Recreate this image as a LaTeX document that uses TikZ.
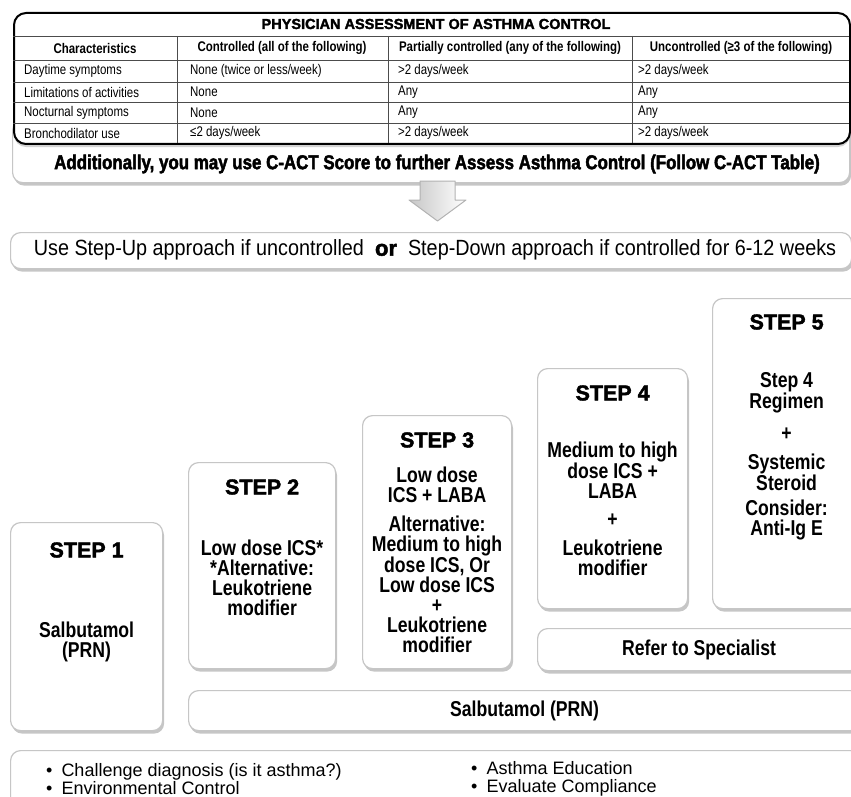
\documentclass[tikz,border=0pt]{standalone}
\usepackage{fontspec}
\setmainfont{Liberation Sans}
\newfontfamily\condfont[FakeStretch=0.82]{Liberation Sans}
\newfontfamily\plainfont[FakeStretch=0.9]{Liberation Sans}
\newfontfamily\blackfont[FakeBold=2]{Liberation Sans}
\newfontfamily\impactfont[FakeStretch=0.845,FakeBold=2.2]{Liberation Sans}
\usetikzlibrary{shadows,positioning}

\tikzset{
  card/.style={fill=white, draw=gray!45, line width=1.2pt, rounded corners=10pt,
    drop shadow={opacity=0.45, shadow xshift=1.5pt, shadow yshift=-3pt}},
  tablebox/.style={fill=white, draw=black, line width=2pt, rounded corners=12pt,
    drop shadow={opacity=0.35, shadow xshift=0pt, shadow yshift=-3pt}},
  grid/.style={line width=0.6pt, draw=black!70},
  cell/.style={anchor=west, inner sep=0pt, font=\condfont\fontsize{14}{14}\selectfont},
  headcell/.style={inner sep=0pt, font=\condfont\bfseries\fontsize{14}{14}\selectfont},
  stephead/.style={inner sep=0pt, font=\blackfont\bfseries\fontsize{21.5}{21.5}\selectfont},
  stepbody/.style={inner sep=0pt, align=center, font=\condfont\bfseries\fontsize{21.5}{20}\selectfont},
  bullets/.style={anchor=west, inner sep=0pt, align=left, font=\fontsize{18}{18}\selectfont},
}

\begin{document}
\begin{tikzpicture}[x=1pt, y=-1pt]
\useasboundingbox (0,0) rectangle (851,797);
\clip (0,0) rectangle (851,797);

% banner under the table
\node[card, anchor=north west, minimum width=837pt, minimum height=62pt] (banner) at (12,120) {};
\node[inner sep=0pt, font=\impactfont\bfseries\fontsize{20}{20}\selectfont] (bannertext) at (437,164)
  {Additionally, you may use C-ACT Score to further Assess Asthma Control (Follow C-ACT Table)};

% assessment table
\node[tablebox, anchor=north west, minimum width=836pt, minimum height=131pt] (table) at (13,12) {};
\node[inner sep=0pt, font=\blackfont\bfseries\fontsize{14.5}{14.5}\selectfont] (tabletitle) at (436,24)
  {PHYSICIAN ASSESSMENT OF ASTHMA CONTROL};
\draw[grid] (13,36) -- (849,36);
\foreach \y in {60,82,102,123}
  \draw[grid] (13,\y) -- (849,\y);
\foreach \x in {177,388,632}
  \draw[grid] (\x,36) -- (\x,143);

\node[headcell] (h1) at (95,48) {Characteristics};
\node[headcell] (h2) at (282,48) {Controlled (all of the following)};
\node[headcell] (h3) at (510,48) {Partially controlled (any of the following)};
\node[headcell] (h4) at (741,48) {Uncontrolled (≥3 of the following)};

\foreach \y/\a/\b/\c/\d [count=\i] in {
    71/{Daytime symptoms}/{None (twice or less/week)}/{>2 days/week}/{>2 days/week},
    92/{Limitations of activities}/{None}/{Any}/{Any},
    112.5/{Nocturnal symptoms}/{None}/{Any}/{Any},
    133/{Bronchodilator use}/{≤2 days/week}/{>2 days/week}/{>2 days/week}} {
  \node[cell] (r\i a) at (24,\y) {\a};
  \node[cell] (r\i b) at (190,\y) {\b};
  \node[cell] (r\i c) at (398,\y) {\c};
  \node[cell] (r\i d) at (638,\y) {\d};
}

% arrow down
\draw[left color=gray!45, right color=white, draw=gray!60, line width=1pt, line join=round]
  (420,181) -- (455,181) -- (455,200) -- (466,200) -- (437.5,221) -- (409,200) -- (420,200) -- cycle;

% step-up / step-down
\node[card, anchor=north west, minimum width=841pt, minimum height=36pt] (approach) at (10,232) {};
\node[inner sep=0pt, font=\plainfont\fontsize{22}{22}\selectfont] (approachtext) at (435,250)
  {Use Step-Up approach if uncontrolled~~{\blackfont\bfseries or}~~Step-Down approach if controlled for 6-12 weeks};

% steps
\node[card, anchor=north west, minimum width=152pt, minimum height=208pt] (step1) at (10,522) {};
\node[stephead] (s1title) at ([yshift=-28pt]step1.north) {STEP 1};
\node[stepbody] (s1text) at ([yshift=-120pt]step1.north) {Salbutamol\\(PRN)};

\node[card, anchor=north west, minimum width=147pt, minimum height=206pt] (step2) at (188,462) {};
\node[stephead] (s2title) at ([yshift=-25pt]step2.north) {STEP 2};
\node[stepbody] (s2text) at ([yshift=-116pt]step2.north) {Low dose ICS*\\*Alternative:\\Leukotriene\\modifier};

\node[card, anchor=north west, minimum width=149pt, minimum height=253pt] (step3) at (362,415) {};
\node[stephead] (s3title) at ([yshift=-25pt]step3.north) {STEP 3};
\node[stepbody] (s3text) at ([yshift=-70pt]step3.north) {Low dose\\ICS + LABA};
\node[stepbody] (s3alt) at ([yshift=-169pt]step3.north)
  {Alternative:\\Medium to high\\dose ICS, Or\\Low dose ICS\\+\\Leukotriene\\modifier};

\node[card, anchor=north west, minimum width=150pt, minimum height=240pt] (step4) at (537,368) {};
\node[stephead] (s4title) at ([yshift=-25pt]step4.north) {STEP 4};
\node[stepbody] (s4text) at ([yshift=-102pt]step4.north) {Medium to high\\dose ICS +\\LABA};
\node[stepbody] (s4plus) at ([yshift=-152pt]step4.north) {+};
\node[stepbody] (s4extra) at ([yshift=-190pt]step4.north) {Leukotriene\\modifier};

\node[card, anchor=north west, minimum width=148pt, minimum height=310pt] (step5) at (712,298) {};
\node[stephead] (s5title) at ([yshift=-24pt]step5.north) {STEP 5};
\node[stepbody] (s5text) at ([yshift=-95pt]step5.north) {Step 4\\Regimen};
\node[stepbody] (s5plus) at ([yshift=-136pt]step5.north) {+};
\node[stepbody] (s5steroid) at ([yshift=-174pt]step5.north) {Systemic\\Steroid};
\node[stepbody] (s5anti) at ([yshift=-222pt]step5.north) {Consider:\\Anti-Ig E};

\node[card, anchor=north west, minimum width=323pt, minimum height=42pt] (refer) at (537,628) {};
\node[stepbody] (refertext) at (refer.center) {Refer to Specialist};

\node[card, anchor=north west, minimum width=672pt, minimum height=40pt] (reliever) at (188,690) {};
\node[stepbody] (relievertext) at (reliever.center) {Salbutamol (PRN)};

% general measures
\node[card, anchor=north west, minimum width=850pt, minimum height=60pt] (measures) at (10,750) {};
\node[bullets] (leftlist) at (46,779) {•\hspace{9pt}Challenge diagnosis (is it asthma?)\\•\hspace{9pt}Environmental Control};
\node[bullets] (rightlist) at (471,779) {•\hspace{9pt}Asthma Education\\•\hspace{9pt}Evaluate Compliance};
\end{tikzpicture}
\end{document}
